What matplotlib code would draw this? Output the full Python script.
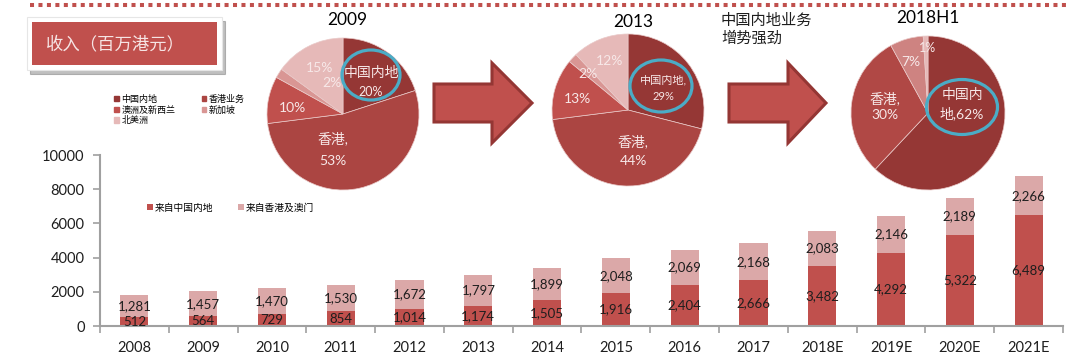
import numpy as np
import matplotlib
matplotlib.use('Agg')
import matplotlib.pyplot as plt
from matplotlib.patches import Ellipse, Polygon, Rectangle, Shadow

plt.rcParams['font.family'] = ['Lato', 'Noto Sans CJK SC', 'DejaVu Sans']

# Bar data (HK$ million)
years = ['2008', '2009', '2010', '2011', '2012', '2013', '2014', '2015', '2016',
         '2017', '2018E', '2019E', '2020E', '2021E']
mainland = [512, 564, 729, 854, 1014, 1174, 1505, 1916, 2404, 2666, 3482, 4292, 5322, 6489]
hk_macau = [1281, 1457, 1470, 1530, 1672, 1797, 1899, 2048, 2069, 2168, 2083, 2146, 2189, 2266]
bar_labels = ['来自中国内地', '来自香港及澳门']

# Pie data (share of revenue, %)
pie_titles = ['2009', '2013', '2018H1']
pie_2009 = [20, 53, 10, 2, 15]
pie_2013 = [29, 44, 13, 2, 12]
pie_2018h1 = [62, 30, 7, 1]
region_labels = ['中国内地', '香港业务', '澳洲及新西兰', '新加坡', '北美洲']

W, H = 1080, 361
RED = '#C0504D'
PINK = '#DBA8A8'
DARK = '#953735'
HKRED = '#AB4542'
region_colors = [DARK, HKRED, RED, '#D99694', '#E6B9B8']
TXT = '#1E1E1E'
PIE_TXT = '#F7E8E8'

fig = plt.figure(figsize=(W / 100, H / 100), dpi=100)

# ---- stacked bars ----
ax = fig.add_axes([100 / W, 1 - 326 / H, 963 / W, 171 / H])
x = np.arange(len(years))
ax.bar(x, mainland, width=0.41, color=RED, label=bar_labels[0])
ax.bar(x, hk_macau, width=0.41, bottom=mainland, color=PINK, label=bar_labels[1])
for i in range(len(years)):
    ax.text(x[i], mainland[i] / 2, f'{mainland[i]:,}', ha='center', va='center',
            fontsize=9.5, color=TXT)
    ax.text(x[i], mainland[i] + hk_macau[i] / 2, f'{hk_macau[i]:,}', ha='center',
            va='center', fontsize=9.5, color=TXT)
ax.set_xlim(-0.5, len(years) - 0.5)
ax.set_ylim(0, 10000)
ax.set_yticks(np.arange(0, 10001, 2000))
ax.set_xticks(x)
ax.set_xticklabels(years)
ax.set_xticks(np.arange(-0.5, len(years), 1), minor=True)
ax.tick_params(axis='x', which='major', length=0, pad=11, labelsize=10.5, labelcolor=TXT)
ax.tick_params(axis='x', which='minor', length=5, width=1.2, color='#A0A0A0')
ax.tick_params(axis='y', length=5, width=1.2, color='#A0A0A0', pad=6, labelsize=10.5,
               labelcolor=TXT)
for s in ['top', 'right']:
    ax.spines[s].set_visible(False)
for s in ['left', 'bottom']:
    ax.spines[s].set_color('#A0A0A0')
    ax.spines[s].set_linewidth(1.5)
ax.legend(loc='center left', bbox_to_anchor=(138 / W, 1 - 208 / H),
          bbox_transform=fig.transFigure, ncol=2, frameon=False, fontsize=7,
          handlelength=0.6, handleheight=0.6, handletextpad=0.25, columnspacing=2.5)


# ---- pies ----
def pie_axes(cx, cy, r):
    m = 1.04
    return fig.add_axes([(cx - m * r) / W, 1 - (cy + m * r) / H, 2 * m * r / W, 2 * m * r / H])


pies = [
    (pie_2009, region_colors, 343, 114, 76),
    (pie_2013, region_colors, 628, 110, 76),
    (pie_2018h1, [DARK, '#B04845', '#CE8381', '#E6B9B8'], 928, 113, 77),
]
for vals, cols, cx, cy, r in pies:
    pa = pie_axes(cx, cy, r)
    pa.pie(vals, colors=cols, startangle=90, counterclock=False, radius=1,
           wedgeprops=dict(edgecolor='#E9C9C8', linewidth=0.5))
    pa.set_xlim(-1.04, 1.04)
    pa.set_ylim(-1.04, 1.04)
    pa.axis('off')

# ---- overlay: title box, arrows, pie texts ----
ov = fig.add_axes([0, 0, 1, 1], zorder=5)
ov.set_xlim(0, W)
ov.set_ylim(H, 0)
ov.axis('off')

ov.plot([30, 1066], [5, 5], color=RED, lw=2.9, linestyle=(0, (1, 1.1)),
        dash_capstyle='butt')

outer = Rectangle((27, 17), 195, 53, facecolor='white', edgecolor='#E6E6E6', lw=0.8)
ov.add_patch(Shadow(outer, 2, 3, alpha=0.35))
ov.add_patch(outer)
ov.add_patch(Rectangle((32, 22), 185, 43, facecolor=RED, edgecolor='none'))
ov.text(46, 44, '收入（百万港元）', fontsize=12.5, color='#F6E4E4', va='center', ha='left')

for x0, xb, x1, cy in [(434, 492, 532, 103), (729, 788, 826, 103)]:
    s, hh = 19, 40
    pts = [(x0, cy - s), (xb, cy - s), (xb, cy - hh), (x1, cy), (xb, cy + hh),
           (xb, cy + s), (x0, cy + s)]
    ov.add_patch(Polygon(pts, closed=True, facecolor=RED, edgecolor='#943634', lw=2.2,
                         joinstyle='miter'))

ov.text(721, 30, '中国内地业务\n增势强劲', fontsize=11, color=TXT, ha='left', va='center',
        linespacing=1.25)

# pie titles
for t, (px, py) in zip(pie_titles, [(347, 20), (633, 22), (928, 18)]):
    ov.text(px, py, t, fontsize=12.5, color='black', ha='center', va='center')

# highlight rings
for ex, ey, ew, eh in [(371, 75, 58, 50), (661, 86, 62, 52), (962, 107, 71, 55)]:
    ov.add_patch(Ellipse((ex, ey), ew, eh, facecolor='none', edgecolor='#4BACC6', lw=2.3))

pie_texts = [
    (371, 73, region_labels[0], 10), (371, 92, f'{pie_2009[0]}%', 9),
    (333, 138, '香港,', 10), (333, 161, f'{pie_2009[1]}%', 10),
    (292, 108, f'{pie_2009[2]}%', 10), (332, 83, f'{pie_2009[3]}%', 10),
    (320, 68, f'{pie_2009[4]}%', 10),
    (663, 80, region_labels[0] + ',', 8), (663, 96, f'{pie_2013[0]}%', 8),
    (633, 141, '香港,', 10), (633, 161, f'{pie_2013[1]}%', 10),
    (577, 99, f'{pie_2013[2]}%', 10), (588, 74, f'{pie_2013[3]}%', 10),
    (610, 61, f'{pie_2013[4]}%', 10),
    (962, 95, '中国内', 10), (962, 113, f'地,{pie_2018h1[0]}%', 10),
    (885, 98, '香港,', 10), (885, 115, f'{pie_2018h1[1]}%', 10),
    (911, 62, f'{pie_2018h1[2]}%', 10), (928, 48, f'{pie_2018h1[3]}%', 9),
]
for tx, ty, s, fs in pie_texts:
    ov.text(tx, ty, s, fontsize=fs, color=PIE_TXT, ha='center', va='center')

# pie legend
order = [0, 2, 4, 1, 3]
handles = [Rectangle((0, 0), 1, 1, color=region_colors[i]) for i in order]
ov.legend(handles, [region_labels[i] for i in order], loc='center left',
          bbox_to_anchor=(106 / W, 1 - 110 / H), bbox_transform=fig.transFigure,
          ncol=2, frameon=False, fontsize=6.5, handlelength=0.55, handleheight=0.55,
          handletextpad=0.25, columnspacing=2.9, labelspacing=0.2)

fig.savefig('out.png', dpi=100)
